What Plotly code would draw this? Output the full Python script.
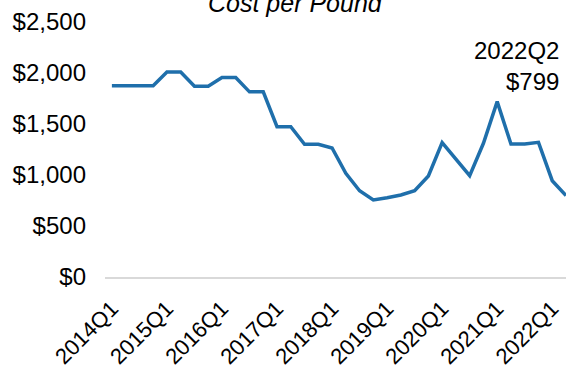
import plotly.graph_objects as go

quarters = [f"{y}Q{q}" for y in range(2014, 2023) for q in range(1, 5)][:34]
cost = [1875, 1875, 1875, 1875, 2010, 2010, 1870, 1870, 1955, 1955,
        1815, 1815, 1473, 1473, 1301, 1301, 1265, 1017, 846, 755,
        777, 804, 846, 990, 1317, 1160, 993, 1311, 1719, 1304,
        1305, 1320, 944, 799]
y_ticks = [0, 500, 1000, 1500, 2000, 2500]
y_tick_labels = [f"${v:,}" for v in y_ticks]

idx = list(range(len(quarters)))
x_tick_idx = [i for i, q in enumerate(quarters) if q.endswith("Q1")]
x_tick_text = [quarters[i] for i in x_tick_idx]

FONT = "Liberation Sans, Arial, sans-serif"

fig = go.Figure()
fig.add_trace(go.Scatter(
    x=idx, y=cost, mode="lines",
    line=dict(color="#1f6fab", width=3.5),
    cliponaxis=False, hoverinfo="skip", showlegend=False,
))

fig.update_layout(
    width=566, height=369,
    margin=dict(l=105, r=0, t=22, b=92),
    paper_bgcolor="white", plot_bgcolor="white",
    font=dict(family=FONT, size=24, color="black"),
    title=dict(text="<i>Cost per Pound</i>", font=dict(size=25, family=FONT),
               xref="container", x=0.521, xanchor="center",
               yref="container", y=0.99, yanchor="middle"),
    xaxis=dict(range=[-0.5, 33], tickvals=x_tick_idx, ticktext=x_tick_text,
               tickangle=-45, showgrid=False, zeroline=False, automargin=False,
               showline=True, linecolor="#d9d9d9", linewidth=2,
               ticks="", ticklabelstandoff=8, tickfont=dict(size=22)),
    yaxis=dict(range=[0, 2500], tickvals=y_ticks, ticktext=y_tick_labels,
               showgrid=False, zeroline=False, showline=False, automargin=False,
               ticks="", ticklabelstandoff=18, tickfont=dict(size=24)),
    annotations=[dict(
        text=f"{quarters[-1]}<br>${cost[-1]:,}",
        xref="paper", yref="paper", x=0.99, y=0.95,
        xanchor="right", yanchor="top", align="right",
        showarrow=False, font=dict(size=24, family=FONT),
    )],
)

fig.write_html("out.html")
